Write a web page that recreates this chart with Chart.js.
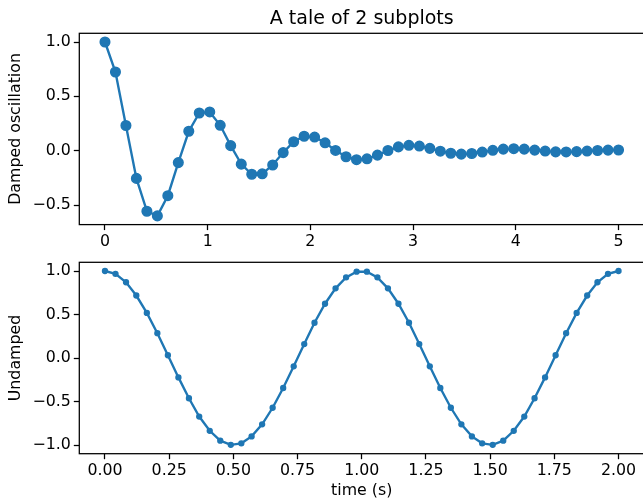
<!DOCTYPE html>
<html>
<head>
<meta charset="utf-8">
<script src="https://cdn.jsdelivr.net/npm/chart.js@4"></script>
<style>
  html, body { margin: 0; padding: 0; background: #fff; overflow: hidden; width: 643px; height: 502px; }
  canvas { position: absolute; left: 0; }
  #c1 { top: 0; }
  #c2 { top: 240px; }
</style>
</head>
<body>
<canvas id="c1" width="660" height="250"></canvas>
<canvas id="c2" width="660" height="262"></canvas>
<script>
// ---- data ----
const chartTitle = 'A tale of 2 subplots';
const topYLabel = 'Damped oscillation';
const bottomYLabel = 'Undamped';
const bottomXLabel = 'time (s)';

const dampedX = [0, 0.102, 0.204, 0.306, 0.408, 0.510, 0.612, 0.714, 0.816, 0.918,
  1.020, 1.122, 1.224, 1.327, 1.429, 1.531, 1.633, 1.735, 1.837, 1.939,
  2.041, 2.143, 2.245, 2.347, 2.449, 2.551, 2.653, 2.755, 2.857, 2.959,
  3.061, 3.163, 3.265, 3.367, 3.469, 3.571, 3.673, 3.776, 3.878, 3.980,
  4.082, 4.184, 4.286, 4.388, 4.490, 4.592, 4.694, 4.796, 4.898, 5.0];
const dampedY = [1, 0.724, 0.232, -0.254, -0.556, -0.599, -0.413, -0.109, 0.179, 0.347,
  0.357, 0.234, 0.047, -0.123, -0.216, -0.212, -0.131, -0.017, 0.083, 0.133,
  0.126, 0.073, 0.003, -0.055, -0.082, -0.074, -0.040, 0.002, 0.036, 0.050,
  0.043, 0.022, -0.004, -0.023, -0.031, -0.025, -0.012, 0.004, 0.015, 0.019,
  0.015, 0.006, -0.003, -0.010, -0.011, -0.008, -0.003, 0.002, 0.006, 0.007];

const undampedX = [0, 0.041, 0.082, 0.122, 0.163, 0.204, 0.245, 0.286, 0.327, 0.367,
  0.408, 0.449, 0.490, 0.531, 0.571, 0.612, 0.653, 0.694, 0.735, 0.776,
  0.816, 0.857, 0.898, 0.939, 0.980, 1.020, 1.061, 1.102, 1.143, 1.184,
  1.224, 1.265, 1.306, 1.347, 1.388, 1.429, 1.469, 1.510, 1.551, 1.592,
  1.633, 1.673, 1.714, 1.755, 1.796, 1.837, 1.878, 1.918, 1.959, 2.0];
const undampedY = [1, 0.967, 0.871, 0.718, 0.518, 0.285, 0.032, -0.223, -0.463, -0.673,
  -0.837, -0.950, -0.998, -0.981, -0.901, -0.762, -0.572, -0.345, -0.096, 0.160,
  0.405, 0.624, 0.801, 0.927, 0.992, 0.992, 0.927, 0.801, 0.624, 0.405,
  0.160, -0.096, -0.345, -0.572, -0.762, -0.901, -0.981, -0.998, -0.950, -0.837,
  -0.673, -0.463, -0.223, 0.032, 0.285, 0.518, 0.718, 0.871, 0.967, 1];

const topXTicks = [0, 1, 2, 3, 4, 5];
const topYTicks = [-0.5, 0, 0.5, 1.0];
const bottomXTicks = [0, 0.25, 0.5, 0.75, 1.0, 1.25, 1.5, 1.75, 2.0];
const bottomYTicks = [-1.0, -0.5, 0, 0.5, 1.0];

// ---- styling ----
const BLUE = '#1f77b4';
const FONT = '"DejaVu Sans", sans-serif';
const TICK_SIZE = 15.8;
const TITLE_SIZE = 19;
const fmt = d => v => v.toFixed(d).replace('-', '\u2212');

const framePlugin = {
  id: 'frame',
  afterDatasetsDraw(chart, args, opts) {
    const { ctx, chartArea: a } = chart;
    ctx.save();
    ctx.strokeStyle = '#000';
    ctx.lineWidth = 1.27;
    ctx.strokeRect(a.left, a.top, a.right - a.left, a.bottom - a.top);
    if (opts && opts.text) {
      ctx.font = TITLE_SIZE + 'px ' + FONT;
      ctx.fillStyle = '#000';
      ctx.textAlign = 'center';
      ctx.textBaseline = 'alphabetic';
      ctx.fillText(opts.text, (a.left + a.right) / 2, a.top - 9.4);
    }
    ctx.restore();
  }
};

function axis(min, max, ticks, decimals, pad, extra) {
  return Object.assign({
    type: 'linear',
    min: min,
    max: max,
    afterBuildTicks: s => { s.ticks = ticks.map(v => ({ value: v })); },
    grid: { drawOnChartArea: false, drawTicks: true, tickLength: 5.5, tickWidth: 1.27, tickColor: '#000' },
    border: { display: false },
    ticks: {
      autoSkip: false, maxRotation: 0, minRotation: 0, padding: pad,
      color: '#000', font: { family: FONT, size: TICK_SIZE },
      callback: fmt(decimals)
    }
  }, extra || {});
}

function makeChart(id, xs, ys, cfg) {
  const pts = xs.map((x, i) => ({ x: x, y: ys[i] }));
  return new Chart(document.getElementById(id), {
    type: 'line',
    data: {
      datasets: [{
        data: pts,
        borderColor: BLUE,
        backgroundColor: BLUE,
        borderWidth: 2.375,
        pointRadius: cfg.pointRadius,
        pointBorderWidth: 1.58,
        pointBackgroundColor: BLUE,
        pointBorderColor: BLUE,
        tension: 0,
        fill: false
      }]
    },
    options: {
      responsive: false,
      animation: false,
      devicePixelRatio: window.devicePixelRatio || 1,
      layout: { padding: cfg.padding },
      plugins: { legend: { display: false }, tooltip: { enabled: false }, frame: { text: cfg.title } },
      scales: {
        x: axis(cfg.xmin, cfg.xmax, cfg.xticks, cfg.xdec, cfg.xpad, {
          afterFit: s => { s.height = cfg.xh; },
          title: cfg.xtitle ? { display: true, text: cfg.xtitle, color: '#000', font: { family: FONT, size: TICK_SIZE }, padding: { top: 0, bottom: 1.5 } } : { display: false }
        }),
        y: axis(cfg.ymin, cfg.ymax, cfg.yticks, cfg.ydec, 3, {
          afterFit: s => { s.width = 79.3; },
          title: { display: true, text: cfg.ytitle, color: '#000', font: { family: FONT, size: TICK_SIZE }, padding: { top: 6.1, bottom: 0 } }
        })
      }
    },
    plugins: [framePlugin]
  });
}

makeChart('c1', dampedX, dampedY, {
  title: chartTitle, ytitle: topYLabel, xtitle: null,
  xmin: -0.25, xmax: 5.25, xticks: topXTicks, xdec: 0, xpad: 2,
  ymin: -0.679, ymax: 1.08, yticks: topYTicks, ydec: 1,
  padding: { top: 33.3, right: 15.8, left: 0, bottom: 0 },
  xh: 25.4, pointRadius: 4.75
});

makeChart('c2', undampedX, undampedY, {
  title: null, ytitle: bottomYLabel, xtitle: bottomXLabel,
  xmin: -0.1, xmax: 2.1, xticks: bottomXTicks, xdec: 2, xpad: 2.5,
  ymin: -1.1, ymax: 1.1, yticks: bottomYTicks, ydec: 1,
  padding: { top: 22.3, right: 15.8, left: 0, bottom: 0 },
  xh: 48.3, pointRadius: 2.375
});
</script>
</body>
</html>
